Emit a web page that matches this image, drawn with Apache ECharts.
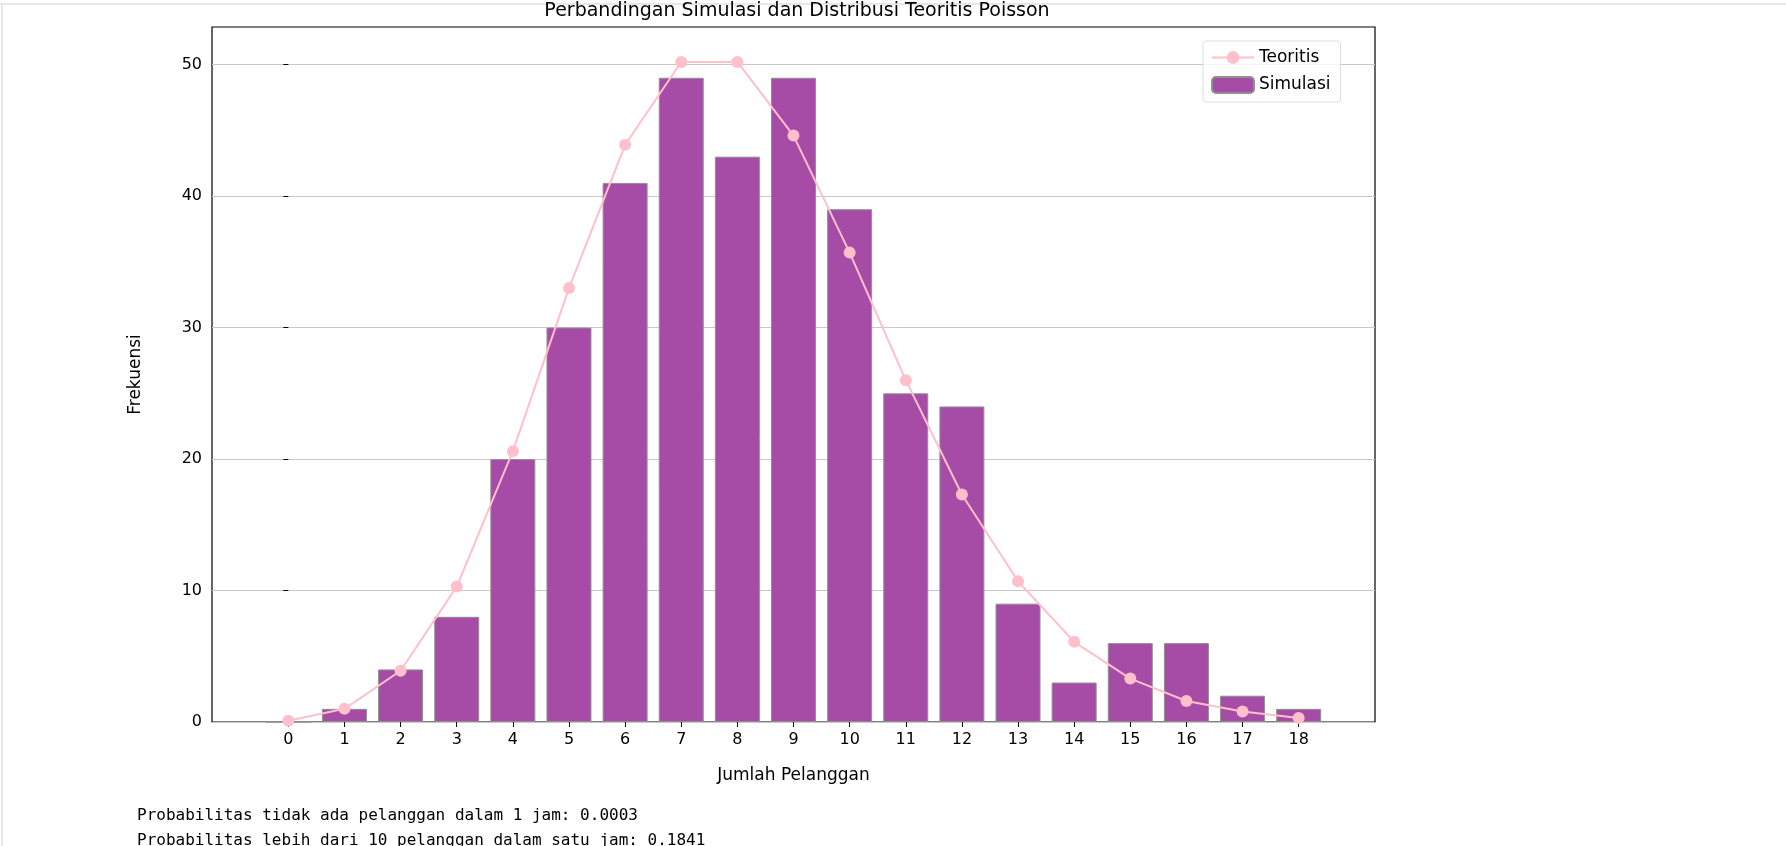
<!DOCTYPE html>
<html lang="id">
<head>
    <meta charset="UTF-8">
    <title>Perbandingan Simulasi dan Distribusi Teoritis Poisson</title>
    <style>
        *{ margin: 0; padding: 0; }
        html, body{ width: 1786px; height: 846px; background: #fff; overflow: hidden; }
        #chart{ width: 1786px; height: 846px; }
    </style>
</head>
<body>
    <div id="chart"></div>
    <script src="https://cdn.jsdelivr.net/npm/echarts@6/dist/echarts.min.js"></script>
    <script>
        var kategori = [0, 1, 2, 3, 4, 5, 6, 7, 8, 9, 10, 11, 12, 13, 14, 15, 16, 17, 18];
        var simulasi = [0, 1, 4, 8, 20, 30, 41, 49, 43, 49, 39, 25, 24, 9, 3, 6, 6, 2, 1];
        var teoritis = [0.1, 1.0, 3.9, 10.3, 20.6, 33.0, 43.9, 50.2, 50.2, 44.6, 35.7, 26.0, 17.3, 10.7, 6.1, 3.3, 1.6, 0.8, 0.3];
        var yTicks = [0, 10, 20, 30, 40, 50];

        var font = 'DejaVu Sans';
        var chart = echarts.init(document.getElementById('chart'));

        chart.setOption({
            animation: false,
            textStyle: { fontFamily: font },
            title: {
                text: 'Perbandingan Simulasi dan Distribusi Teoritis Poisson',
                left: 792, top: -3, textAlign: 'center',
                textStyle: { fontSize: 19, fontWeight: 'normal', color: '#000', fontFamily: font }
            },
            legend: {
                orient: 'vertical',
                left: 1203, top: 41,
                padding: [8, 10, 8, 8],
                itemGap: 10,
                itemWidth: 42, itemHeight: 16,
                borderColor: '#ddd', borderWidth: 1, borderRadius: 3,
                backgroundColor: 'rgba(255,255,255,0.8)',
                textStyle: { fontSize: 17, color: '#000', fontFamily: font },
                data: ['Teoritis', 'Simulasi']
            },
            grid: {
                left: 212, top: 27, width: 1163, height: 695,
                show: true, borderColor: '#000', borderWidth: 1.2,
                containLabel: false
            },
            xAxis: {
                type: 'value',
                min: -1.36, max: 19.36,
                name: 'Jumlah Pelanggan', nameLocation: 'middle', nameGap: 45,
                nameTextStyle: { fontSize: 17, color: '#000', fontFamily: font },
                axisLine: { show: false },
                splitLine: { show: false },
                axisTick: { show: true, customValues: kategori, length: 5, lineStyle: { color: '#000' } },
                axisLabel: { customValues: kategori, fontSize: 16, color: '#000', margin: 10 }
            },
            yAxis: {
                type: 'value',
                min: 0, max: 52.86,
                name: 'Frekuensi', nameLocation: 'middle', nameGap: 68,
                nameTextStyle: { fontSize: 17, color: '#000', fontFamily: font },
                axisLine: { show: false },
                splitLine: { show: true, lineStyle: { color: '#c8c8c8', width: 1.2 } },
                axisTick: { show: true, customValues: yTicks, length: 5, lineStyle: { color: '#000' } },
                axisLabel: { customValues: yTicks, fontSize: 16, color: '#000', margin: 10 }
            },
            series: [
                {
                    name: 'Simulasi',
                    type: 'bar',
                    barWidth: 45,
                    itemStyle: { color: '#a64ca6', borderColor: '#909090', borderWidth: 1 },
                    data: kategori.map(function(k, i){ return [k, simulasi[i]]; }),
                    z: 2
                },
                {
                    name: 'Teoritis',
                    type: 'line',
                    symbol: 'circle', symbolSize: 12,
                    lineStyle: { color: '#ffc0cb', width: 2 },
                    itemStyle: { color: '#ffc0cb' },
                    data: kategori.map(function(k, i){ return [k, teoritis[i]]; }),
                    z: 3
                }
            ],
            graphic: [
                { type: 'line', shape: { x1: 0, y1: 4, x2: 1786, y2: 4 }, style: { stroke: '#d0d0d0', lineWidth: 1 } },
                { type: 'line', shape: { x1: 2, y1: 4, x2: 2, y2: 846 }, style: { stroke: '#d0d0d0', lineWidth: 1 } },
                { type: 'text', left: 137, top: 808, style: { text: 'Probabilitas tidak ada pelanggan dalam 1 jam: 0.0003', fontFamily: 'DejaVu Sans Mono', fontSize: 16, fill: '#000' } },
                { type: 'text', left: 137, top: 833, style: { text: 'Probabilitas lebih dari 10 pelanggan dalam satu jam: 0.1841', fontFamily: 'DejaVu Sans Mono', fontSize: 16, fill: '#000' } }
            ]
        });
    </script>
</body>
</html>
